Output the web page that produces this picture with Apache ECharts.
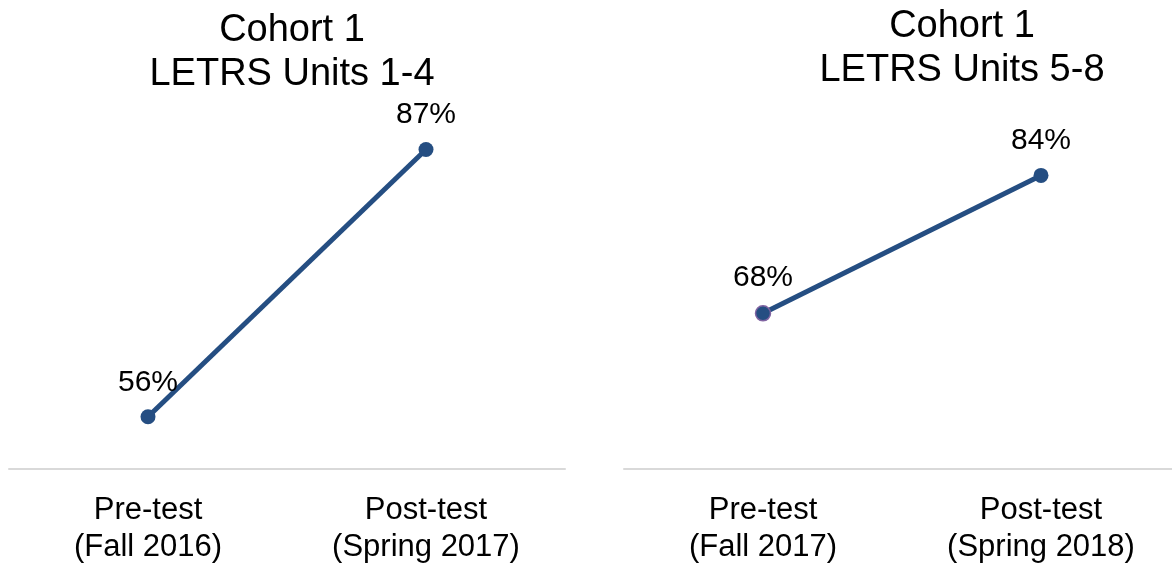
<!DOCTYPE html>
<html>
<head>
<meta charset="utf-8">
<script src="https://cdn.jsdelivr.net/npm/echarts@6/dist/echarts.min.js"></script>
<style>html,body{margin:0;padding:0;background:#fff}#c{width:1172px;height:563px}</style>
</head>
<body>
<div id="c"></div>
<script>
const titles = ['Cohort 1\nLETRS Units 1-4', 'Cohort 1\nLETRS Units 5-8'];
const categoriesA = ['Pre-test\n(Fall 2016)', 'Post-test\n(Spring 2017)'];
const categoriesB = ['Pre-test\n(Fall 2017)', 'Post-test\n(Spring 2018)'];
const valuesA = [56, 87];
const valuesB = [68, 84];

const FONT = 'Liberation Sans, Arial, sans-serif';
const LINE = '#254E82';

const chart = echarts.init(document.getElementById('c'), null, {renderer: 'canvas'});

function xAxis(idx, cats) {
  return {
    type: 'category', gridIndex: idx, data: cats,
    axisLine: {lineStyle: {color: '#d9d9d9', width: 2}},
    axisTick: {show: false},
    axisLabel: {fontFamily: FONT, fontSize: 31, color: '#000', lineHeight: 37, margin: 23, interval: 0}
  };
}
function yAxis(idx) {
  return {type: 'value', gridIndex: idx, min: 50, max: 100, show: false, splitLine: {show: false}};
}
function series(idx, vals, firstBorder) {
  return {
    type: 'line', xAxisIndex: idx, yAxisIndex: idx,
    data: vals.map((v, i) => ({
      value: v,
      itemStyle: (firstBorder && i === 0) ? {color: LINE, borderColor: '#8064A2', borderWidth: 1.5} : {color: LINE, borderWidth: 0}
    })),
    symbol: 'circle', symbolSize: 15,
    lineStyle: {color: LINE, width: 5},
    itemStyle: {color: LINE},
    label: {show: true, position: 'top', distance: 12, formatter: '{c}%', fontFamily: FONT, fontSize: 30, color: '#000', lineHeight: 30},
    animation: false
  };
}

chart.setOption({
  animation: false,
  title: [
    {text: titles[0], left: 287, top: 4, textAlign: 'center', textStyle: {fontFamily: FONT, fontSize: 38, fontWeight: 'normal', color: '#000', lineHeight: 44}},
    {text: titles[1], left: 957, top: 0, textAlign: 'center', textStyle: {fontFamily: FONT, fontSize: 38, fontWeight: 'normal', color: '#000', lineHeight: 44}}
  ],
  grid: [
    {left: 9, width: 556, top: 37.5, height: 431, containLabel: false, outerBoundsMode: 'none'},
    {left: 624, width: 556, top: 37.5, height: 431, containLabel: false, outerBoundsMode: 'none'}
  ],
  xAxis: [xAxis(0, categoriesA), xAxis(1, categoriesB)],
  yAxis: [yAxis(0), yAxis(1)],
  series: [series(0, valuesA, false), series(1, valuesB, true)]
});
</script>
</body>
</html>
